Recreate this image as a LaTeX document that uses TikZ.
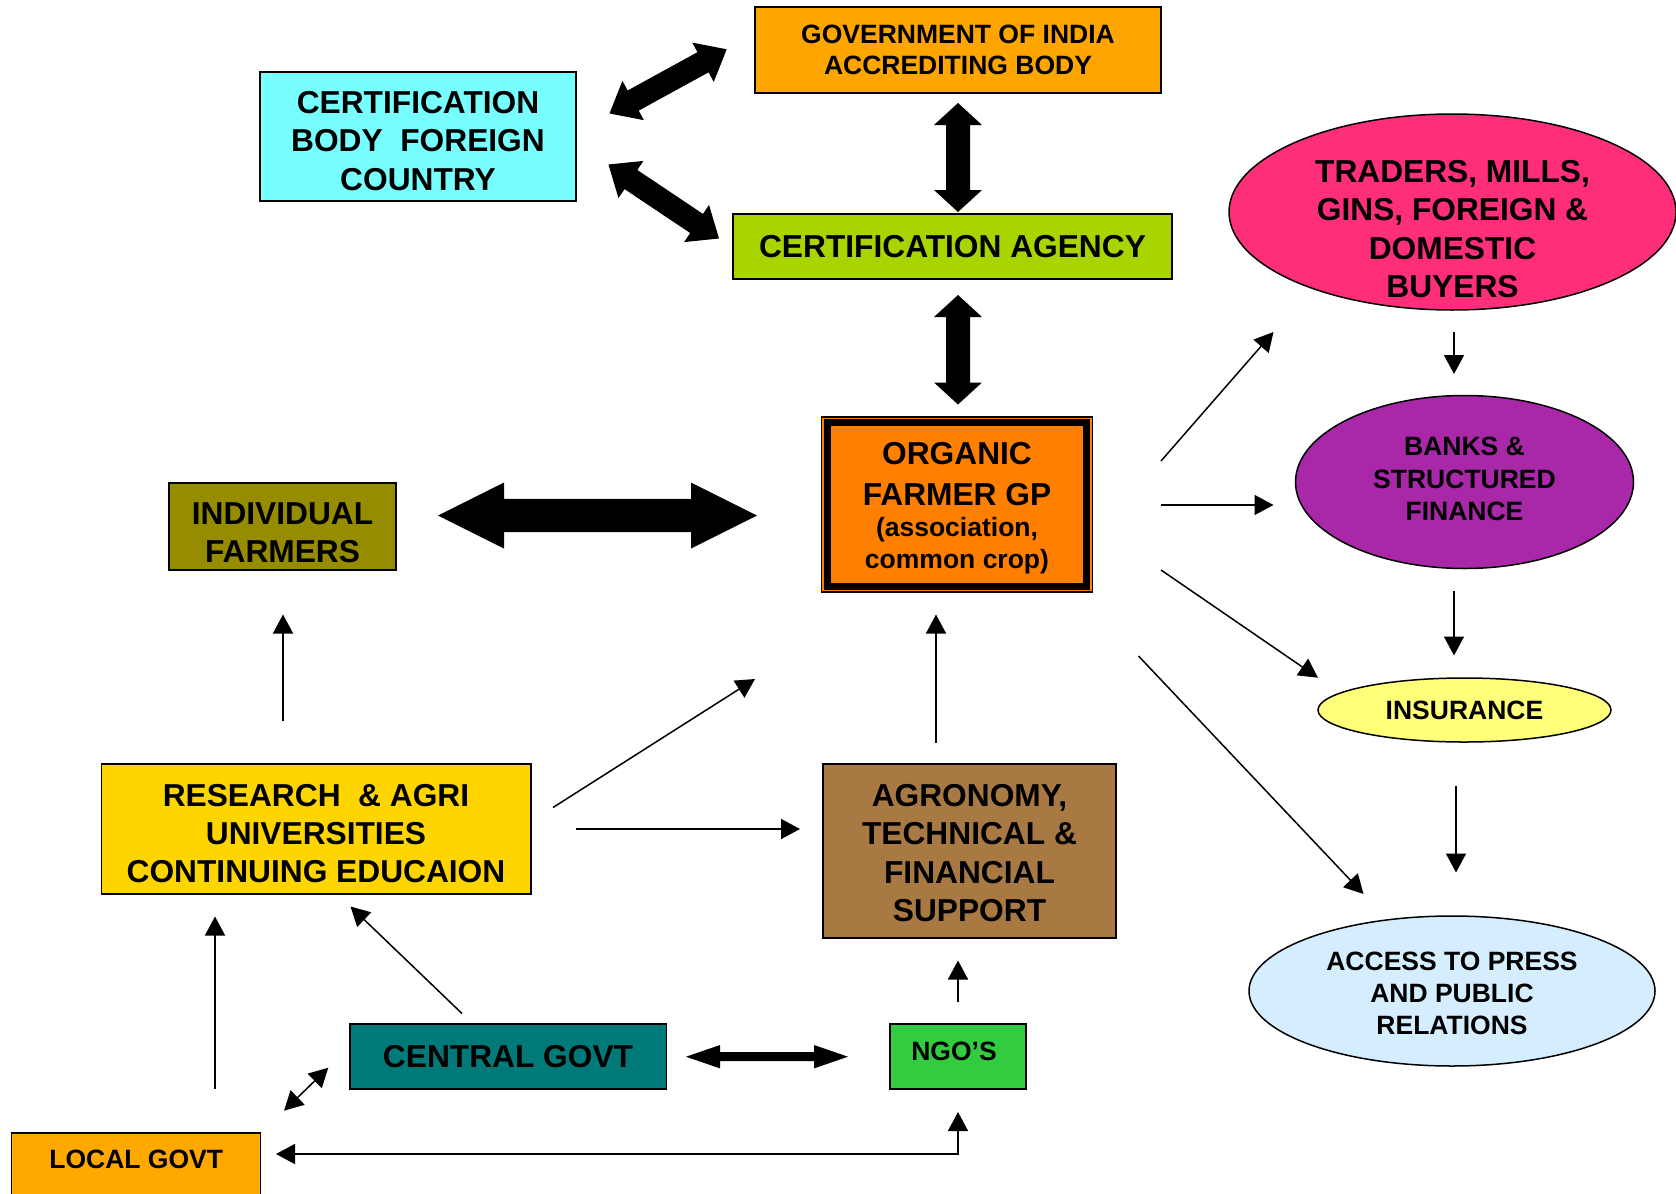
\documentclass[tikz,border=0pt]{standalone}
\usepackage{fontspec}
\setmainfont{Liberation Sans}
\usetikzlibrary{arrows.meta,shapes.geometric,calc}
\definecolor{cGov}{HTML}{FFA500}
\definecolor{cCyan}{HTML}{77FFFF}
\definecolor{cAgency}{HTML}{A8D400}
\definecolor{cTraders}{HTML}{FF2E7A}
\definecolor{cBanks}{HTML}{A828A8}
\definecolor{cIns}{HTML}{FFFF7A}
\definecolor{cAccess}{HTML}{D5EEFF}
\definecolor{cOrg}{HTML}{FF7F00}
\definecolor{cFarm}{HTML}{968C00}
\definecolor{cRes}{HTML}{FFD500}
\definecolor{cAgro}{HTML}{A87942}
\definecolor{cTeal}{HTML}{007A78}
\definecolor{cNGO}{HTML}{33CC40}
\definecolor{cLocal}{HTML}{FFA800}
\newcommand\smallsz{\fontsize{26.5pt}{31.5pt}\selectfont}
\newcommand\sh[2]{\raisebox{#1}[\height][\depth]{#2}}
\newcommand\blkarrow[5]{%
  \path let \p1=(#1), \p2=(#2) in
    \pgfextra{\pgfmathsetmacro\bkang{atan2(\y2-\y1,\x2-\x1)}%
      \pgfmathsetmacro\bklen{veclen(\x2-\x1,\y2-\y1)}%
      \xdef\BKang{\bkang}\xdef\BKlen{\bklen}};
  \fill[shift={(#1)},rotate=\BKang]
    (0pt,0pt) -- (#5pt,#4pt) -- (#5pt,#3pt) -- ({\BKlen pt-#5pt},#3pt) -- ({\BKlen pt-#5pt},#4pt)
    -- (\BKlen pt,0pt) -- ({\BKlen pt-#5pt},-#4pt) -- ({\BKlen pt-#5pt},-#3pt) -- (#5pt,-#3pt) -- (#5pt,-#4pt) -- cycle;
}
\begin{document}
\begin{tikzpicture}[x=1pt,y=-1pt,
  box/.style={draw=black,line width=1.5pt,inner sep=0pt,align=center,text=black},
  bigt/.style={font=\bfseries\fontsize{31.7pt}{38pt}\selectfont},
  smallt/.style={font=\bfseries\fontsize{26.5pt}{31.5pt}\selectfont},
  oval/.style={box,ellipse},
  conn/.style={-{Triangle[length=19pt,width=20pt]},line width=1.5pt},
  dconn/.style={{Triangle[length=19pt,width=20pt]}-{Triangle[length=19pt,width=20pt]},line width=1.5pt}]
\useasboundingbox (0,0) rectangle (1676,1194);
\clip (0,0) rectangle (1676,1194);
\fill[white] (0,0) rectangle (1676,1194);

% nodes
\node[box,fill=cGov,minimum width=406pt,minimum height=86pt,font=\bfseries\fontsize{26.5pt}{31pt}\selectfont] (gov) at (958,50) {GOVERNMENT OF INDIA\\ACCREDITING BODY};
\node[box,fill=cCyan,minimum width=316pt,minimum height=129pt,font=\bfseries\fontsize{31.7pt}{38.5pt}\selectfont] (certbody) at (418,136.5) {\sh{-4.5pt}{CERTIFICATION}\\\sh{-4.5pt}{BODY\ \ FOREIGN}\\\sh{-4.5pt}{COUNTRY}};
\node[box,bigt,fill=cAgency,minimum width=439pt,minimum height=65pt] (agency) at (952.5,246.5) {CERTIFICATION AGENCY};
\node[oval,fill=cTraders,minimum width=447pt,minimum height=196pt,font=\bfseries\fontsize{31.7pt}{38.2pt}\selectfont] (traders) at (1452.5,212) {\sh{-17pt}{TRADERS, MILLS,}\\\sh{-17pt}{GINS, FOREIGN \&}\\\sh{-17pt}{DOMESTIC}\\\sh{-17pt}{BUYERS}};
\node[oval,fill=cBanks,minimum width=338pt,minimum height=173pt,font=\bfseries\fontsize{26.5pt}{32.5pt}\selectfont] (banks) at (1464.5,482) {\sh{3pt}{BANKS \&}\\\sh{3pt}{STRUCTURED}\\\sh{3pt}{FINANCE}};
\node[oval,smallt,fill=cIns,minimum width=293pt,minimum height=64pt] (ins) at (1464.5,710) {INSURANCE};
\node[oval,fill=cAccess,minimum width=406pt,minimum height=150pt,font=\bfseries\fontsize{26.5pt}{32pt}\selectfont] (access) at (1452,991) {\sh{-2pt}{ACCESS TO PRESS}\\\sh{-2pt}{AND PUBLIC}\\\sh{-2pt}{RELATIONS}};
\node[box,line width=1.3pt,fill=cOrg,minimum width=271.5pt,minimum height=175pt,font=\bfseries\fontsize{31.7pt}{37pt}\selectfont] (organic) at (957,504.5) {\sh{-4pt}{ORGANIC}\\[3.5pt]\sh{-4pt}{FARMER GP}\\[-6pt]\sh{-4pt}{\smallsz (association,}\\[-4.5pt]\sh{-4pt}{\smallsz common crop)}};
\draw[line width=7pt] ([shift={(6.5,6.5)}]organic.north west) rectangle ([shift={(-6.5,-6.5)}]organic.south east);
\node[box,bigt,fill=cFarm,minimum width=227pt,minimum height=87pt] (farmers) at (282.5,526.5) {\sh{-6pt}{INDIVIDUAL}\\\sh{-6pt}{FARMERS}};
\node[box,bigt,fill=cRes,minimum width=429.5pt,minimum height=130pt] (research) at (316,829) {\sh{-4.5pt}{RESEARCH\ \ \& AGRI}\\\sh{-4.5pt}{UNIVERSITIES}\\\sh{-4.5pt}{CONTINUING EDUCAION}};
\node[box,fill=cAgro,minimum width=293pt,minimum height=174pt,font=\bfseries\fontsize{31.7pt}{38.5pt}\selectfont] (agro) at (969.5,851) {\sh{-2pt}{AGRONOMY,}\\\sh{-2pt}{TECHNICAL \&}\\\sh{-2pt}{FINANCIAL}\\\sh{-2pt}{SUPPORT}};
\node[box,bigt,fill=cTeal,minimum width=316.5pt,minimum height=64.7pt] (central) at (508,1056.5) {CENTRAL GOVT};
\node[box,smallt,fill=cNGO,minimum width=136pt,minimum height=64.7pt] (ngo) at (958,1056.5) {\sh{5pt}{\kern-4pt NGO’S\kern4pt}};
\node[box,smallt,fill=cLocal,minimum width=249pt,minimum height=84pt,anchor=north] (local) at (136.2,1132.3) {\sh{16pt}{LOCAL GOVT}};

% block arrows
\coordinate (a1s) at (609.5,113.5); \coordinate (a1e) at (726.7,49.3);
\coordinate (a2s) at (608.5,164.5); \coordinate (a2e) at (719,238.5);
\coordinate (a3s) at (958,103);     \coordinate (a3e) at (958,212);
\coordinate (a4s) at (958,295);     \coordinate (a4e) at (958,404.5);
\coordinate (a5s) at (438,515.5);   \coordinate (a5e) at (757,515.5);
\coordinate (a6s) at (686,1056.7);  \coordinate (a6e) at (848,1056.7);
\blkarrow{a1s}{a1e}{11.5}{22.4}{27}
\blkarrow{a2s}{a2e}{11.5}{22.4}{27}
\blkarrow{a3s}{a3e}{12}{24}{22}
\blkarrow{a4s}{a4e}{12}{24}{22}
\blkarrow{a5s}{a5e}{16.6}{33}{66}
\blkarrow{a6s}{a6e}{4.5}{11.7}{34}

% thin connectors
\coordinate (t1s) at (1161,461);    \coordinate (t1e) at (1273.5,332);
\coordinate (t2s) at (1161,505);    \coordinate (t2e) at (1273.5,505);
\coordinate (t3s) at (1161,570);    \coordinate (t3e) at (1318,677.7);
\coordinate (t4s) at (1138.5,656);  \coordinate (t4e) at (1363.5,894);
\coordinate (t5s) at (1454,332);    \coordinate (t5e) at (1454,374);
\coordinate (t6s) at (1454,591);    \coordinate (t6e) at (1454,655.5);
\coordinate (t7s) at (1456,786);    \coordinate (t7e) at (1456,872.5);
\coordinate (t8s) at (283,721);     \coordinate (t8e) at (283,614.5);
\coordinate (t9s) at (553,807.5);   \coordinate (t9e) at (755,679);
\coordinate (t10s) at (576,829);    \coordinate (t10e) at (800,829);
\coordinate (t11s) at (936,743);    \coordinate (t11e) at (936,614.5);
\coordinate (t12s) at (958,1002);   \coordinate (t12e) at (958,960.5);
\coordinate (t13s) at (462,1013.5); \coordinate (t13e) at (350.5,906.5);
\coordinate (t14s) at (215,1088.5); \coordinate (t14e) at (215,916.5);
\coordinate (t15s) at (276,1154);   \coordinate (t15c) at (958,1154); \coordinate (t15e) at (958,1112);
\coordinate (t16s) at (284,1110.7); \coordinate (t16e) at (328.3,1067.7);
\foreach \i in {1,...,14} {\draw[conn] (t\i s) -- (t\i e);}
\draw[dconn] (t15s) -- (t15c) -- (t15e);
\draw[dconn] (t16s) -- (t16e);
\end{tikzpicture}
\end{document}
